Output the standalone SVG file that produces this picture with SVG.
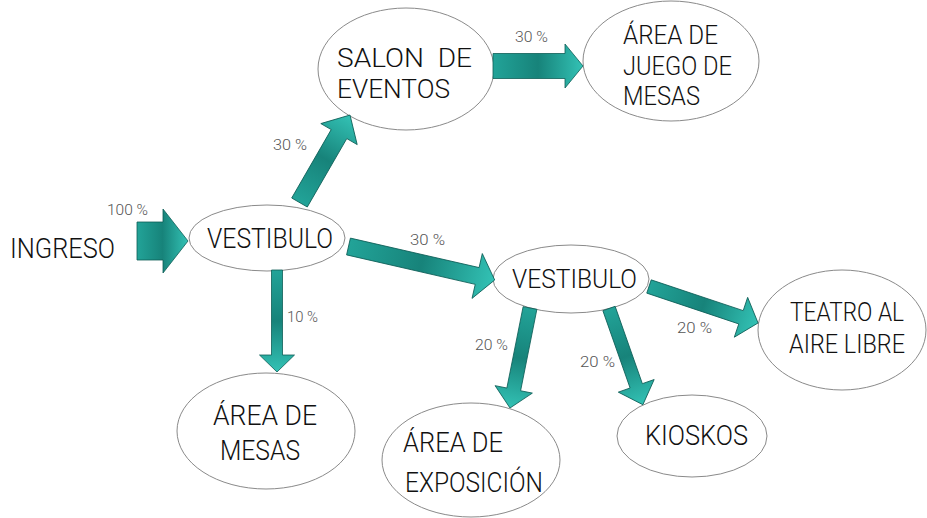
<svg xmlns="http://www.w3.org/2000/svg" width="927" height="518" viewBox="0 0 927 518">
  <style>
    .node { fill: #ffffff; stroke: #8a8a8a; stroke-width: 1; }
    .lbl { font-family: Roboto, "Liberation Sans", sans-serif; font-weight: 300; font-size: 28px; fill: #111111; }
    .lbl2 { font-family: Roboto, "Liberation Sans", sans-serif; font-weight: 300; font-size: 26px; fill: #111111; }
    .pct { font-family: Roboto, "Liberation Sans", sans-serif; font-weight: 300; font-size: 14px; fill: #555555; }
    .arrow { fill: url(#teal); stroke: #0e5e57; stroke-width: 0.8; stroke-linejoin: miter; }
  </style>
  <defs>
    <linearGradient id="teal" x1="0" y1="0" x2="1" y2="0">
      <stop offset="0" stop-color="#22a398"/>
      <stop offset="0.5" stop-color="#17837a"/>
      <stop offset="1" stop-color="#33c2b5"/>
    </linearGradient>
  </defs>
  <rect width="927" height="518" fill="#ffffff"/>

  <g id="node-ingreso">
    <text class="lbl" x="10" y="258" textLength="105" lengthAdjust="spacingAndGlyphs">INGRESO</text>
  </g>
  <g id="node-vestibulo1">
    <ellipse class="node" cx="267" cy="238" rx="78" ry="33"/>
    <text class="lbl" x="207" y="248" textLength="126" lengthAdjust="spacingAndGlyphs">VESTIBULO</text>
  </g>
  <g id="node-salon">
    <ellipse class="node" cx="406" cy="69" rx="88" ry="61"/>
    <text class="lbl2" x="337" y="67" textLength="135" lengthAdjust="spacingAndGlyphs" xml:space="preserve">SALON  DE</text>
    <text class="lbl2" x="337" y="98" textLength="113" lengthAdjust="spacingAndGlyphs">EVENTOS</text>
  </g>
  <g id="node-juego">
    <ellipse class="node" cx="671" cy="61" rx="88" ry="60"/>
    <text class="lbl2" x="623" y="44" textLength="95" lengthAdjust="spacingAndGlyphs">ÁREA DE</text>
    <text class="lbl2" x="623" y="75" textLength="109" lengthAdjust="spacingAndGlyphs">JUEGO DE</text>
    <text class="lbl2" x="623" y="105" textLength="77" lengthAdjust="spacingAndGlyphs">MESAS</text>
  </g>
  <g id="node-vestibulo2">
    <ellipse class="node" cx="571" cy="279" rx="78" ry="34"/>
    <text class="lbl2" x="512" y="288" textLength="125" lengthAdjust="spacingAndGlyphs">VESTIBULO</text>
  </g>
  <g id="node-teatro">
    <ellipse class="node" cx="842" cy="330" rx="84" ry="60"/>
    <text class="lbl2" x="790" y="321" textLength="114" lengthAdjust="spacingAndGlyphs">TEATRO AL</text>
    <text class="lbl2" x="789" y="353" textLength="116" lengthAdjust="spacingAndGlyphs">AIRE LIBRE</text>
  </g>
  <g id="node-mesas">
    <ellipse class="node" cx="266" cy="431" rx="89" ry="58"/>
    <text class="lbl" x="213" y="425" textLength="104" lengthAdjust="spacingAndGlyphs">ÁREA DE</text>
    <text class="lbl" x="220" y="460" textLength="80" lengthAdjust="spacingAndGlyphs">MESAS</text>
  </g>
  <g id="node-exposicion">
    <ellipse class="node" cx="471" cy="460" rx="89" ry="57"/>
    <text class="lbl" x="403" y="452" textLength="100" lengthAdjust="spacingAndGlyphs">ÁREA DE</text>
    <text class="lbl" x="405" y="492" textLength="138" lengthAdjust="spacingAndGlyphs">EXPOSICIÓN</text>
  </g>
  <g id="node-kioskos">
    <ellipse class="node" cx="692" cy="436" rx="75" ry="41"/>
    <text class="lbl" x="645" y="445" textLength="103" lengthAdjust="spacingAndGlyphs">KIOSKOS</text>
  </g>

  <g id="connectors">
    <!-- INGRESO -> VESTIBULO -->
    <path class="arrow" transform="translate(137,241)" d="M0,-19 L26,-19 L26,-32 L51,0 L26,32 L26,19 L0,19 Z"/>
    <!-- VESTIBULO -> SALON -->
    <path class="arrow" transform="translate(299.5,202.5) rotate(-60)" d="M0,-9 L79,-9 L79,-21 L101,0 L79,21 L79,9 L0,9 Z"/>
    <!-- SALON -> JUEGO -->
    <path class="arrow" transform="translate(493,66)" d="M0,-12.5 L72,-12.5 L72,-22 L90,0 L72,22 L72,12.5 L0,12.5 Z"/>
    <!-- VESTIBULO -> VESTIBULO2 -->
    <path class="arrow" transform="translate(348.5,246.5) rotate(12.9)" d="M0,-8.6 L132,-8.6 L132,-23 L150,0 L132,23 L132,8.6 L0,8.6 Z"/>
    <!-- VESTIBULO -> AREA DE MESAS -->
    <path class="arrow" transform="translate(277,270) rotate(90)" d="M0,-5.5 L85,-5.5 L85,-17.5 L102,0 L85,17.5 L85,5.5 L0,5.5 Z"/>
    <!-- VESTIBULO2 -> EXPOSICION -->
    <path class="arrow" transform="translate(530,308) rotate(101.3)" d="M0,-7 L83,-7 L83,-19 L102,0 L83,19 L83,7 L0,7 Z"/>
    <!-- VESTIBULO2 -> KIOSKOS -->
    <path class="arrow" transform="translate(609,308.5) rotate(70.6)" d="M0,-6.5 L82,-6.5 L82,-19 L102,0 L82,19 L82,6.5 L0,6.5 Z"/>
    <!-- VESTIBULO2 -> TEATRO -->
    <path class="arrow" transform="translate(649,286.5) rotate(18.5)" d="M0,-7 L97,-7 L97,-21 L115,0 L97,21 L97,7 L0,7 Z"/>

    <text class="pct" x="107" y="215" textLength="41" lengthAdjust="spacingAndGlyphs">100 %</text>
    <text class="pct" x="273" y="150" textLength="34" lengthAdjust="spacingAndGlyphs">30 %</text>
    <text class="pct" x="515" y="42" textLength="33" lengthAdjust="spacingAndGlyphs">30 %</text>
    <text class="pct" x="410" y="245" textLength="35" lengthAdjust="spacingAndGlyphs">30 %</text>
    <text class="pct" x="287" y="322" textLength="31" lengthAdjust="spacingAndGlyphs">10 %</text>
    <text class="pct" x="475" y="350" textLength="33" lengthAdjust="spacingAndGlyphs">20 %</text>
    <text class="pct" x="580" y="367" textLength="35" lengthAdjust="spacingAndGlyphs">20 %</text>
    <text class="pct" x="677" y="333" textLength="35" lengthAdjust="spacingAndGlyphs">20 %</text>
  </g>
</svg>
